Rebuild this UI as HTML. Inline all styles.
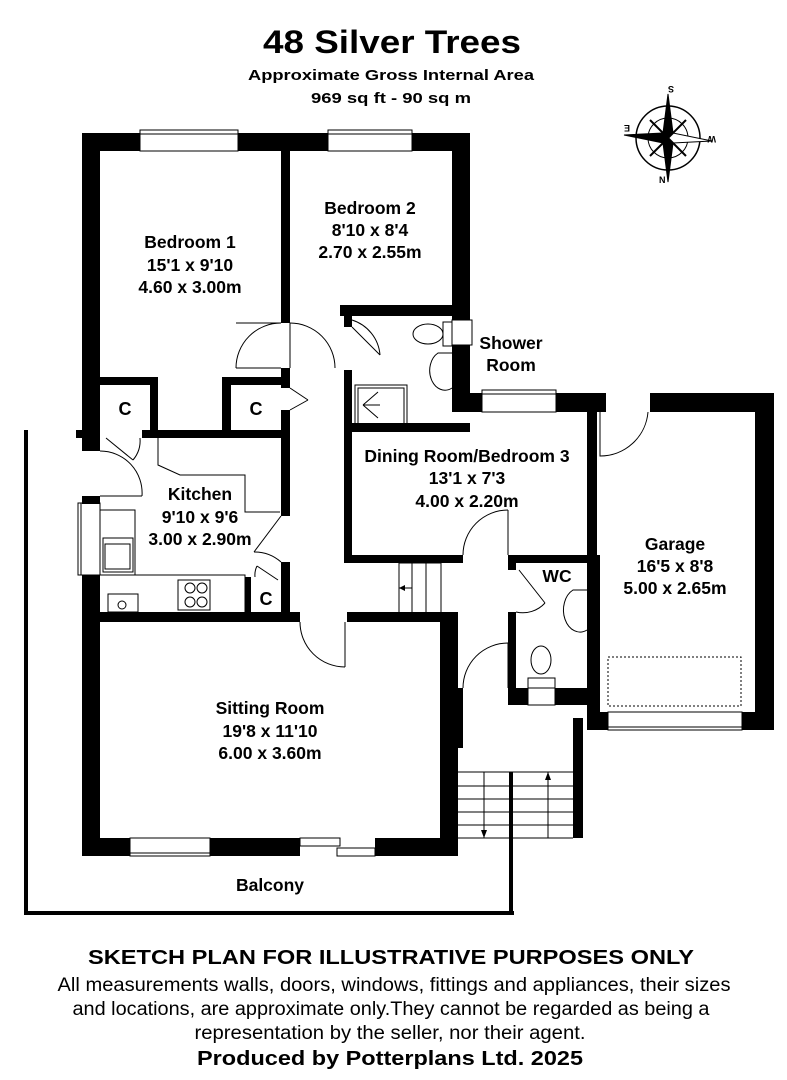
<!DOCTYPE html>
<html><head><meta charset="utf-8"><style>
html,body{margin:0;padding:0;background:#fff;}
svg{display:block;}
text{font-family:"Liberation Sans",Arial,sans-serif;fill:#000;}
.b{font-weight:bold;}
</style></head><body>
<svg width="787" height="1080" viewBox="0 0 787 1080" xmlns="http://www.w3.org/2000/svg">
<rect width="787" height="1080" fill="#fff"/>
<text x="392" y="53" text-anchor="middle" class="b" font-size="32" textLength="258" lengthAdjust="spacingAndGlyphs">48 Silver Trees</text>
<text x="391" y="80" text-anchor="middle" class="b" font-size="15" textLength="286" lengthAdjust="spacingAndGlyphs">Approximate Gross Internal Area</text>
<text x="391" y="103" text-anchor="middle" class="b" font-size="15" textLength="160" lengthAdjust="spacingAndGlyphs">969 sq ft - 90 sq m</text>

<g transform="translate(668,138)" stroke="#000" fill="none">
<circle r="32" stroke-width="1.5"/>
<circle r="20" stroke-width="1"/>
<polygon points="0,-44 5,-5 0,0 -5,-5" fill="#000"/>
<polygon points="0,44 5,5 0,0 -5,5" fill="#000"/>
<polygon points="-44,-3 -5,-5 0,0 -5,5" fill="#000"/>
<polygon points="44,3 5,5 0,0 5,-5" fill="#fff"/>
<line x1="-18" y1="-18" x2="18" y2="18" stroke-width="2"/>
<line x1="18" y1="-18" x2="-18" y2="18" stroke-width="2"/>
</g>
<text x="674" y="92" font-size="9" font-family="Liberation Serif" class="b" transform="rotate(180 674 89)">S</text>
<text x="659" y="183" font-size="9" font-family="Liberation Serif" class="b">N</text>
<text x="622" y="131" font-size="9" font-family="Liberation Serif" class="b" transform="rotate(180 626 128)">E</text>
<text x="706" y="142" font-size="9" font-family="Liberation Serif" class="b" transform="rotate(180 711 139)">W</text>

<g fill="#000">
<rect x="82" y="133" width="58" height="18"/>
<rect x="238" y="133" width="90" height="18"/>
<rect x="412" y="133" width="58" height="18"/>
<rect x="82" y="133" width="18" height="318"/>
<rect x="76" y="430" width="24" height="8"/>
<rect x="281" y="151" width="9" height="172"/>
<rect x="281" y="368" width="9" height="20"/>
<rect x="452" y="133" width="18" height="187"/>
<rect x="452" y="345" width="18" height="67"/>
<rect x="452" y="393" width="30" height="19"/>
<rect x="340" y="305" width="130" height="11"/>
<rect x="344" y="305" width="8" height="22"/>
<rect x="344" y="370" width="8" height="193"/>
<rect x="344" y="423" width="126" height="9"/>
<rect x="100" y="377" width="58" height="8"/>
<rect x="150" y="377" width="8" height="60"/>
<rect x="222" y="377" width="68" height="8"/>
<rect x="222" y="377" width="9" height="60"/>
<rect x="142" y="430" width="148" height="8"/>
<rect x="281" y="410" width="9" height="28"/>
<rect x="82" y="496" width="18" height="8"/>
<rect x="82" y="575" width="18" height="48"/>
<rect x="281" y="438" width="9" height="78"/>
<rect x="281" y="562" width="9" height="55"/>
<rect x="245" y="577" width="6" height="40"/>
<rect x="82" y="612" width="218" height="10"/>
<rect x="347" y="612" width="111" height="10"/>
<rect x="82" y="612" width="18" height="244"/>
<rect x="440" y="612" width="18" height="244"/>
<rect x="82" y="838" width="48" height="18"/>
<rect x="210" y="838" width="90" height="18"/>
<rect x="375" y="838" width="83" height="18"/>
<rect x="556" y="393" width="50" height="19"/>
<rect x="587" y="393" width="10" height="170"/>
<rect x="344" y="555" width="119" height="8"/>
<rect x="508" y="555" width="89" height="8"/>
<rect x="508" y="555" width="8" height="15"/>
<rect x="508" y="612" width="8" height="93"/>
<rect x="508" y="688" width="20" height="17"/>
<rect x="555" y="688" width="42" height="17"/>
<rect x="587" y="555" width="13" height="175"/>
<rect x="452" y="688" width="11" height="60"/>
<rect x="573" y="718" width="10" height="120"/>
<rect x="650" y="393" width="124" height="19"/>
<rect x="755" y="393" width="19" height="337"/>
<rect x="587" y="712" width="21" height="18"/>
<rect x="742" y="712" width="32" height="18"/>
<rect x="24" y="430" width="4" height="485"/>
<rect x="24" y="911" width="490" height="4"/>
<rect x="509" y="772" width="4" height="143"/>
</g>

<g fill="none" stroke="#000" stroke-width="1">
<rect x="140" y="130" width="98" height="21" fill="#fff"/>
<line x1="140" y1="134" x2="238" y2="134"/>
<rect x="328" y="130" width="84" height="21" fill="#fff"/>
<line x1="328" y1="134" x2="412" y2="134"/>
<rect x="482" y="390" width="74" height="22"/>
<line x1="482" y1="394" x2="556" y2="394"/>
<rect x="452" y="320" width="20" height="25"/>
<rect x="78" y="503" width="22" height="72"/>
<line x1="81" y1="503" x2="81" y2="575"/>
<rect x="130" y="838" width="80" height="18"/>
<line x1="128" y1="853" x2="212" y2="853"/>
<rect x="300" y="838" width="40" height="8"/>
<rect x="337" y="848" width="38" height="8"/>
<rect x="608" y="712" width="134" height="18"/>
<line x1="608" y1="727" x2="742" y2="727"/>
<line x1="290" y1="323" x2="290" y2="368"/>
<path d="M290 323 A45 45 0 0 1 335 368"/>
<line x1="281" y1="323" x2="236" y2="323"/>
<path d="M236 368 A45 45 0 0 1 281 323"/>
<line x1="236" y1="368" x2="281" y2="368"/>
<path d="M352 327 L380 355"/><path d="M380 355 A40 40 0 0 0 352 320"/>
<line x1="290" y1="388" x2="308" y2="400"/><line x1="308" y1="400" x2="290" y2="410"/>
<path d="M106 438 L133 460"/><path d="M133 460 A30 30 0 0 0 140 438"/>
<path d="M100 451 A42 42 0 0 1 142 496"/><line x1="100" y1="496" x2="142" y2="496"/>
<path d="M281 516 L254 552"/><path d="M254 552 A40 40 0 0 1 281 562"/>
<path d="M257 566 L278 580"/><path d="M257 566 A20 20 0 0 0 255 577"/>
<path d="M300 622 A45 45 0 0 0 345 667"/><line x1="345" y1="622" x2="345" y2="667"/>
<path d="M463 555 A45 45 0 0 1 508 510"/><line x1="508" y1="510" x2="508" y2="555"/>
<path d="M519 570 L545 603"/><path d="M545 603 A30 30 0 0 1 516 612"/>
<path d="M463 688 A45 45 0 0 1 508 643"/><line x1="508" y1="643" x2="508" y2="688"/>
<path d="M600 412 L600 456 A48 48 0 0 0 648 412"/>
<polyline points="158,438 158,465 180,475 245,475 245,512 280,512"/>
<polyline points="100,510 135,510 135,575 100,575"/>
<polyline points="100,575 245,575 245,612"/>
<rect x="103" y="538" width="30" height="34"/>
<rect x="105" y="544" width="25" height="25"/>
<rect x="108" y="594" width="30" height="18"/>
<circle cx="122" cy="605" r="4"/>
<rect x="178" y="580" width="32" height="30"/>
<circle cx="190" cy="588" r="5"/><circle cx="202" cy="588" r="5"/>
<circle cx="190" cy="602" r="5"/><circle cx="202" cy="602" r="5"/>
<rect x="355" y="385" width="52" height="43"/>
<rect x="358" y="388" width="46" height="37"/>
<path d="M363 405 L378 392 M363 405 L380 405 M363 405 L378 418"/>
<ellipse cx="428" cy="334" rx="15" ry="10"/>
<rect x="443" y="322" width="9" height="24"/>
<path d="M452 353 L438 353 A14 18 0 0 0 452 388"/>
<path d="M587 590 L573 590 A15 20 0 0 0 587 630"/>
<ellipse cx="541" cy="660" rx="10" ry="14"/>
<rect x="528" y="678" width="27" height="10"/>
<rect x="528" y="688" width="27" height="17"/>
<rect x="608" y="657" width="133" height="49" stroke-dasharray="2,2"/>
<rect x="399" y="563" width="42" height="50"/>
<line x1="412" y1="563" x2="412" y2="613"/><line x1="426" y1="563" x2="426" y2="613"/>
<line x1="399" y1="588" x2="412" y2="588"/>
<path d="M458 772 L573 772 M458 786 L573 786 M458 799 L573 799 M458 812 L573 812 M458 825 L573 825 M458 838 L509 838 M513 838 L573 838"/>
<line x1="484" y1="772" x2="484" y2="838"/>
<line x1="548" y1="772" x2="548" y2="838"/>
</g>
<polygon points="481,830 487,830 484,838" fill="#000"/>
<polygon points="545,780 551,780 548,772" fill="#000"/>
<polygon points="405,585 405,591 399,588" fill="#000"/>

<g class="b" font-size="17.5" text-anchor="middle">
<text x="190" y="248" class="b">Bedroom 1</text>
<text x="190" y="271" class="b">15'1 x 9'10</text>
<text x="190" y="293" class="b">4.60 x 3.00m</text>
<text x="370" y="214" class="b">Bedroom 2</text>
<text x="370" y="236" class="b">8'10 x 8'4</text>
<text x="370" y="258" class="b">2.70 x 2.55m</text>
<text x="511" y="349" class="b">Shower</text>
<text x="511" y="371" class="b">Room</text>
<text x="125" y="415" class="b" font-size="18">C</text>
<text x="256" y="415" class="b" font-size="18">C</text>
<text x="266" y="605" class="b" font-size="18">C</text>
<text x="200" y="500" class="b">Kitchen</text>
<text x="200" y="523" class="b">9'10 x 9'6</text>
<text x="200" y="545" class="b">3.00 x 2.90m</text>
<text x="467" y="462" class="b">Dining Room/Bedroom 3</text>
<text x="467" y="484" class="b">13'1 x 7'3</text>
<text x="467" y="507" class="b">4.00 x 2.20m</text>
<text x="557" y="582" class="b">WC</text>
<text x="675" y="550" class="b">Garage</text>
<text x="675" y="572" class="b">16'5 x 8'8</text>
<text x="675" y="594" class="b">5.00 x 2.65m</text>
<text x="270" y="714" class="b">Sitting Room</text>
<text x="270" y="737" class="b">19'8 x 11'10</text>
<text x="270" y="759" class="b">6.00 x 3.60m</text>
<text x="270" y="891" class="b">Balcony</text>
</g>

<text x="391" y="964" text-anchor="middle" class="b" font-size="20" textLength="606" lengthAdjust="spacingAndGlyphs">SKETCH PLAN FOR ILLUSTRATIVE PURPOSES ONLY</text>
<text x="394" y="991" text-anchor="middle" font-size="19" textLength="673" lengthAdjust="spacingAndGlyphs">All measurements walls, doors, windows, fittings and appliances, their sizes</text>
<text x="391" y="1015" text-anchor="middle" font-size="19" textLength="637" lengthAdjust="spacingAndGlyphs">and locations, are approximate only.They cannot be regarded as being a</text>
<text x="390" y="1039" text-anchor="middle" font-size="19" textLength="391" lengthAdjust="spacingAndGlyphs">representation by the seller, nor their agent.</text>
<text x="390" y="1065" text-anchor="middle" class="b" font-size="20" textLength="386" lengthAdjust="spacingAndGlyphs">Produced by Potterplans Ltd. 2025</text>
</svg>
</body></html>
